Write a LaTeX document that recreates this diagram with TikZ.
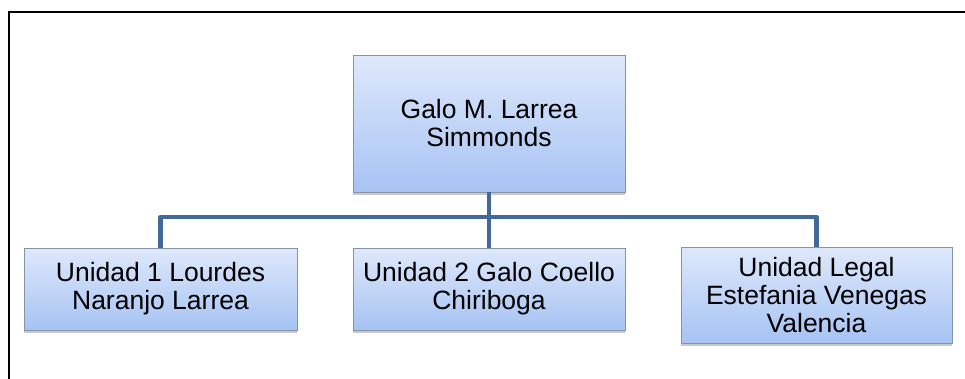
\documentclass[tikz,border=0pt]{standalone}
\usepackage{fontspec}
\setmainfont{Liberation Sans}
\usetikzlibrary{shadows}
\definecolor{boxtop}{HTML}{DEE8FB}
\definecolor{boxbot}{HTML}{A6C3F3}
\definecolor{boxline}{HTML}{8593A8}
\definecolor{linkblue}{HTML}{41699A}
\tikzset{
  orgbox/.style={draw=boxline, line width=0.8pt, top color=boxtop, bottom color=boxbot,
    inner sep=0pt, align=center, font=\fontsize{26.5}{28}\selectfont,
    drop shadow={shadow xshift=0pt, shadow yshift=-3pt, opacity=0.3, fill=black!70}},
  conn/.style={draw=linkblue, line width=4.5pt, line join=round},
  frame/.style={line width=2.6pt, line cap=rect}
}
\begin{document}
\begin{tikzpicture}[x=1pt,y=-1pt]
\useasboundingbox (0,0) rectangle (965,378);
% page frame
\draw[frame] (9,378) -- (9,12) -- (966,12);
% boxes
\node[orgbox, minimum width=272pt, minimum height=137pt] (top) at (489,123.5) {Galo M. Larrea\\Simmonds};
\node[orgbox, minimum width=273pt, minimum height=82pt] (c1) at (160.5,289) {Unidad 1 Lourdes\\Naranjo Larrea};
\node[orgbox, minimum width=272pt, minimum height=82pt] (c2) at (489,289) {Unidad 2 Galo Coello\\Chiriboga};
\node[orgbox, minimum width=271pt, minimum height=96pt] (c3) at (816.5,295) {Unidad Legal\\Estefania Venegas\\Valencia};
% connectors
\coordinate (bus) at (489,217);
\draw[conn] (c1.north) -- (c1.north |- bus) -- (c3.north |- bus) -- (c3.north);
\draw[conn] (top.south) -- (c2.north);
\end{tikzpicture}
\end{document}
